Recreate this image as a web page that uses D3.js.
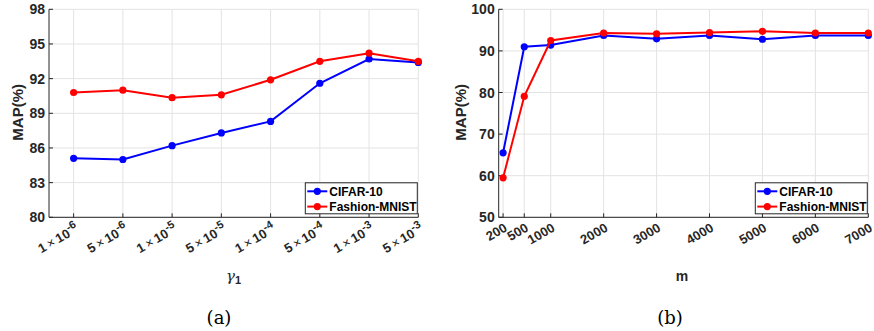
<!DOCTYPE html>
<html>
<head>
<meta charset="utf-8">
<script src="https://d3js.org/d3.v7.min.js"></script>
<style>
  body { margin: 0; background: #fff; }
  text { font-family: "Liberation Sans", Arial, sans-serif; fill: #262626; }
  .tick-lab { font-size: 13px; font-weight: bold; }
  .cap { font-family: "DejaVu Serif", "Liberation Serif", serif; font-size: 18px; fill: #000; }
</style>
</head>
<body>
<svg id="chart" width="874" height="331"></svg>
<script>
// panel (a): gamma_1 sweep
var gammaLabels = [["1", "-6"], ["5", "-6"], ["1", "-5"], ["5", "-5"],
                   ["1", "-4"], ["5", "-4"], ["1", "-3"], ["5", "-3"]];
var cifarGamma   = [85.1, 85.0, 86.2, 87.3, 88.3, 91.6, 93.7, 93.4];
var fashionGamma = [90.8, 91.0, 90.35, 90.6, 91.9, 93.5, 94.2, 93.5];
var yTicksA = [80, 83, 86, 89, 92, 95, 98];

// panel (b): m sweep
var mValues   = [200, 500, 1000, 2000, 3000, 4000, 5000, 6000, 7000];
var cifarM    = [65.5, 91.0, 91.4, 93.7, 92.9, 93.7, 92.8, 93.7, 93.7];
var fashionM  = [59.5, 79.1, 92.5, 94.3, 94.1, 94.4, 94.7, 94.3, 94.3];
var yTicksB = [50, 60, 70, 80, 90, 100];

var seriesNames = ["CIFAR-10", "Fashion-MNIST"];
var seriesColors = ["#0000ff", "#ff0000"];

var svg = d3.select("#chart");
var plotTop = 9.3, plotBottom = 217.3;

function drawPanel(p) {
    var g = svg.append("g");
    var x = p.x, y = p.y;

    // grid
    g.selectAll(".vg").data(p.xTicks).enter().append("line")
        .attr("x1", function(d){ return x(d); }).attr("x2", function(d){ return x(d); })
        .attr("y1", plotTop).attr("y2", plotBottom)
        .style("stroke", "#e3e3e3").style("stroke-width", 1);
    g.selectAll(".hg").data(p.yTicks).enter().append("line")
        .attr("x1", p.left).attr("x2", p.right)
        .attr("y1", function(d){ return y(d); }).attr("y2", function(d){ return y(d); })
        .style("stroke", "#e3e3e3").style("stroke-width", 1);

    // axes
    g.append("line").attr("x1", p.left).attr("x2", p.left).attr("y1", plotTop).attr("y2", plotBottom)
        .style("stroke", "#262626").style("stroke-width", 1);
    g.append("line").attr("x1", p.left).attr("x2", p.right).attr("y1", plotBottom).attr("y2", plotBottom)
        .style("stroke", "#262626").style("stroke-width", 1);

    // inward ticks
    g.selectAll(".xt").data(p.xTicks).enter().append("line")
        .attr("x1", function(d){ return x(d); }).attr("x2", function(d){ return x(d); })
        .attr("y1", plotBottom).attr("y2", plotBottom - 4)
        .style("stroke", "#262626");
    g.selectAll(".yt").data(p.yTicks).enter().append("line")
        .attr("x1", p.left).attr("x2", p.left + 4)
        .attr("y1", function(d){ return y(d); }).attr("y2", function(d){ return y(d); })
        .style("stroke", "#262626");

    // y labels
    g.selectAll(".yl").data(p.yTicks).enter().append("text")
        .attr("class", "tick-lab")
        .style("font-size", "14px")
        .attr("x", p.left - 4).attr("y", function(d){ return y(d); })
        .attr("dy", "0.36em").attr("text-anchor", "end")
        .text(function(d){ return d; });

    // x labels, rotated
    p.xTicks.forEach(function(d, i) {
        var t = g.append("text").attr("class", "tick-lab")
            .attr("text-anchor", "end")
            .attr("transform", "translate(" + (x(d) + p.xLabDx) + "," + (plotBottom + p.xLabDy) + ") rotate(-30)");
        p.xLabel(t, i, d);
    });

    // series
    var line = d3.line()
        .x(function(d, i){ return x(p.xData[i]); })
        .y(function(d){ return y(d); });
    p.series.forEach(function(vals, s) {
        g.append("path").datum(vals).attr("d", line)
            .style("fill", "none").style("stroke", seriesColors[s]).style("stroke-width", 2);
        g.selectAll(".pt" + s).data(vals).enter().append("circle")
            .attr("cx", function(d, i){ return x(p.xData[i]); })
            .attr("cy", function(d){ return y(d); })
            .attr("r", 3.6).style("fill", seriesColors[s]);
    });

    // legend
    var lx = p.right - 113, ly = plotBottom - 34.5;
    g.append("rect").attr("x", lx).attr("y", ly).attr("width", 112).attr("height", 31)
        .style("fill", "#fff").style("stroke", "#262626").style("stroke-width", 1);
    seriesNames.forEach(function(name, s) {
        var yy = ly + 8.5 + s * 15.3;
        g.append("line").attr("x1", lx + 2).attr("x2", lx + 22).attr("y1", yy).attr("y2", yy)
            .style("stroke", seriesColors[s]).style("stroke-width", 2);
        g.append("circle").attr("cx", lx + 12).attr("cy", yy).attr("r", 3.6).style("fill", seriesColors[s]);
        g.append("text").attr("x", lx + 24).attr("y", yy).attr("dy", "0.36em")
            .style("font-size", "12px").style("font-weight", "bold").style("fill", "#000")
            .text(name);
    });

    // y title
    g.append("text").attr("transform", "translate(" + p.yTitleX + "," + ((plotTop + plotBottom) / 2 - 1) + ") rotate(-90)")
        .attr("text-anchor", "middle").attr("dy", "0.36em")
        .style("font-size", "15px").style("font-weight", "bold")
        .text("MAP(%)");

    // caption
    g.append("text").attr("class", "cap").attr("x", p.capX).attr("y", 324)
        .attr("text-anchor", "middle").text(p.cap);
    return g;
}

// panel a
var xA = d3.scaleLinear().domain([-0.5, 7]).range([49, 418.3]);
var yA = d3.scaleLinear().domain([80, 98]).range([plotBottom, plotTop]);
var idx = d3.range(gammaLabels.length);
var gA = drawPanel({
    x: xA, y: yA, left: 49, right: 418.3,
    xTicks: idx, yTicks: yTicksA, xData: idx,
    series: [cifarGamma, fashionGamma],
    xLabDx: 6, xLabDy: 14,
    xLabel: function(t, i) {
        t.append("tspan").text(gammaLabels[i][0]);
        t.append("tspan").style("font-weight", "normal").text("\u2009\u00d7\u2009");
        t.append("tspan").text("10");
        t.append("tspan").attr("dy", "-0.5em").style("font-size", "11px").text(gammaLabels[i][1]);
    },
    yTitleX: 18, capX: 219, cap: "(a)"
});
var gt = gA.append("text").attr("x", 226).attr("y", 281).style("font-size", "15px");
gt.append("tspan").style("font-family", "DejaVu Serif, serif").style("font-style", "italic").text("\u03b3");
gt.append("tspan").attr("dy", "3").style("font-size", "11px").style("font-weight", "bold").text("1");

// panel b: first tick sits closer to the axis than a linear scale would put it
var lin = d3.scaleLinear().domain([0, 7000]).range([497.8, 868.3]);
var xB = d3.scaleLinear().domain([0, 200, 500, 7000]).range([498.7, lin(100), lin(500), lin(7000)]);
var yB = d3.scaleLinear().domain([50, 100]).range([plotBottom, plotTop]);
var gB = drawPanel({
    x: xB, y: yB, left: 498.7, right: 868.3,
    xTicks: mValues, yTicks: yTicksB, xData: mValues,
    series: [cifarM, fashionM],
    xLabDx: 5, xLabDy: 13,
    xLabel: function(t, i, d) { t.text(d); },
    yTitleX: 460.5, capX: 670, cap: "(b)"
});
gB.append("text").attr("x", 682).attr("y", 281).attr("text-anchor", "middle")
    .style("font-size", "14px").style("font-weight", "bold").text("m");
</script>
</body>
</html>
